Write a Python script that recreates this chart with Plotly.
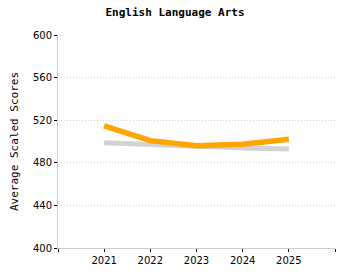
import plotly.graph_objects as go

years = [2021, 2022, 2023, 2024, 2025]
school = [514.6, 500.8, 496.1, 497.4, 502.1]
state = [498.9, 497.0, 495.0, 494.0, 493.0]
tick_vals = [2020, 2021, 2022, 2023, 2024, 2025, 2026]
tick_text = ["", "2021", "2022", "2023", "2024", "2025", ""]

fig = go.Figure()
fig.add_trace(go.Scatter(x=years, y=state, mode="lines",
                         line=dict(color="#d3d3d3", width=5), hoverinfo="skip"))
fig.add_trace(go.Scatter(x=years, y=school, mode="lines",
                         line=dict(color="#ffa500", width=5.5), hoverinfo="skip"))

fig.update_layout(
    width=350, height=280,
    margin=dict(l=58, r=15, t=35, b=32),
    paper_bgcolor="white", plot_bgcolor="white",
    showlegend=False,
    title=dict(text="<b>English Language Arts</b>", x=0.5, xref="container",
               y=0.955, yref="container", yanchor="middle",
               font=dict(family="DejaVu Sans Mono", size=11, color="black")),
    xaxis=dict(range=[2020, 2026], tickvals=tick_vals, ticktext=tick_text,
               showgrid=False, zeroline=False, showline=True, linecolor="#cccccc",
               linewidth=1, ticks="outside", ticklen=3, tickcolor="black",
               tickfont=dict(family="DejaVu Sans", size=10, color="black")),
    yaxis=dict(range=[400, 600], tickvals=[400, 440, 480, 520, 560, 600],
               showgrid=True, gridcolor="#d0d0d0", griddash="1px,2px", gridwidth=1,
               zeroline=False, showline=True, linecolor="#cccccc", linewidth=1,
               ticks="outside", ticklen=3, tickcolor="black",
               tickfont=dict(family="DejaVu Sans", size=10, color="black"),
               title=dict(text="Average Scaled Scores", standoff=12,
                          font=dict(family="DejaVu Sans Mono", size=11, color="black"))),
)

fig.write_html("out.html")
